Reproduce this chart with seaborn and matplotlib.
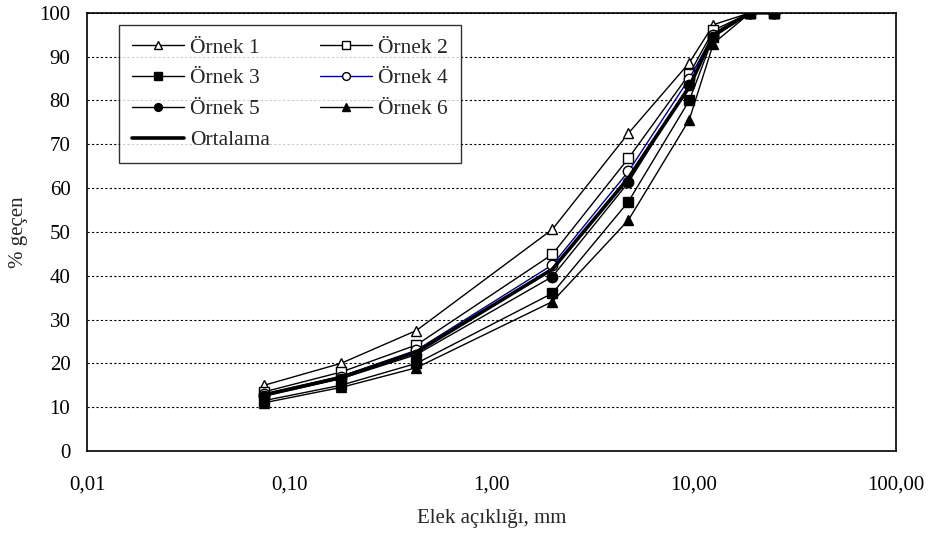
import matplotlib
matplotlib.use("Agg")
import matplotlib.pyplot as plt
import numpy as np
import pandas as pd
import seaborn as sns
from matplotlib.ticker import FixedLocator, FuncFormatter, NullLocator

# elek açıklıkları (mm)
sieve_mm = [0.075, 0.18, 0.425, 2.0, 4.75, 9.5, 12.5, 19.0, 25.0]

ornek_1 = [15.0, 20.0, 27.5, 50.6, 72.5, 88.6, 97.3, 100, 100]
ornek_2 = [13.5, 18.0, 24.2, 44.9, 66.8, 86.0, 96.0, 100, 100]
ornek_3 = [11.5, 15.0, 20.0, 36.0, 56.9, 80.0, 94.5, 100, 100]
ornek_4 = [13.0, 17.0, 23.0, 42.5, 63.8, 85.0, 95.0, 100, 100]
ornek_5 = [12.5, 16.5, 22.0, 39.8, 61.3, 83.5, 94.5, 100, 100]
ornek_6 = [11.0, 14.5, 19.0, 34.1, 52.7, 75.6, 93.0, 100, 100]
ortalama = [12.8, 16.8, 22.6, 41.5, 62.3, 83.1, 95.0, 100, 100]

series_names = ["Örnek 1", "Örnek 2", "Örnek 3", "Örnek 4", "Örnek 5", "Örnek 6", "Ortalama"]
series_values = [ornek_1, ornek_2, ornek_3, ornek_4, ornek_5, ornek_6, ortalama]

x_ticks = [0.01, 0.1, 1, 10, 100]
y_ticks = list(range(0, 101, 10))

# görünüm: (marker, dolgu, çizgi rengi, çizgi kalınlığı)
styles = {
    "Örnek 1": ("^", "white", "black", 1.0),
    "Örnek 2": ("s", "white", "black", 1.0),
    "Örnek 3": ("s", "black", "black", 1.0),
    "Örnek 4": ("o", "white", "#000080", 1.0),
    "Örnek 5": ("o", "black", "black", 1.0),
    "Örnek 6": ("^", "black", "black", 1.0),
    "Ortalama": (None, "black", "black", 2.6),
}

sns.set_style("white")
plt.rcParams["font.family"] = ["Liberation Serif", "DejaVu Serif"]
plt.rcParams["font.size"] = 15

fig = plt.figure(figsize=(9.32, 5.35), dpi=100)
ax = fig.add_axes([0.0934, 0.157, 0.868, 0.819])

for name, values in zip(series_names, series_values):
    marker, face, color, lw = styles[name]
    df = pd.DataFrame({"x": sieve_mm, "y": values})
    sns.lineplot(
        data=df, x="x", y="y", ax=ax, color=color, linewidth=lw,
        marker=marker, markersize=7.5, markerfacecolor=face,
        markeredgecolor="black", markeredgewidth=1.0, label=name,
        estimator=None, sort=False,
    )

ax.set_xscale("log")
ax.set_xlim(0.01, 100)
ax.set_ylim(0, 100)
ax.xaxis.set_major_locator(FixedLocator(x_ticks))
ax.xaxis.set_minor_locator(NullLocator())
ax.xaxis.set_major_formatter(FuncFormatter(lambda v, p: f"{v:.2f}".replace(".", ",")))
ax.set_yticks(y_ticks)
ax.yaxis.grid(True, color="black", linestyle=(0, (2, 2)), linewidth=0.8)
ax.set_axisbelow(True)
ax.tick_params(axis="both", direction="out", length=5, width=1, colors="black", labelsize=15)
ax.tick_params(axis="x", pad=13)
ax.tick_params(axis="y", pad=7)
for spine in ax.spines.values():
    spine.set_color("black")
    spine.set_linewidth(1.2)

ax.set_xlabel("Elek açıklığı, mm", fontsize=15, labelpad=10)
ax.set_ylabel("% geçen", fontsize=15, labelpad=8)

# Excel tarzı satır sırası için sütun sırasına göre dizilim
handles, labels = ax.get_legend_handles_labels()
order = [0, 2, 4, 6, 1, 3, 5]
leg = ax.legend(
    [handles[i] for i in order], [labels[i] for i in order],
    loc="upper left", bbox_to_anchor=(0.04, 0.973), borderaxespad=0,
    ncol=2, frameon=True, fancybox=False, edgecolor="black", fontsize=15.5,
    handlelength=2.4, handletextpad=0.3, columnspacing=2.3, labelspacing=0.5,
    borderpad=0.6, markerscale=0.75,
)
leg.get_frame().set_linewidth(1.0)

fig.savefig("out.png", dpi=100)
